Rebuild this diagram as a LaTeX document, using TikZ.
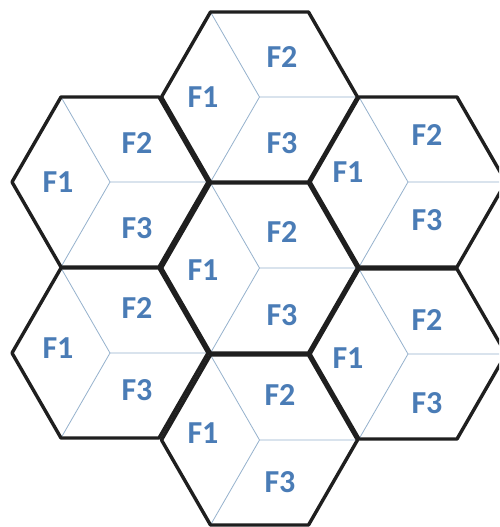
\documentclass[tikz,border=0pt]{standalone}
\usepackage{fontspec}
\setmainfont{Carlito}
\definecolor{labelblue}{RGB}{74,124,182}
\definecolor{sectorline}{RGB}{150,178,205}
\begin{document}
\begin{tikzpicture}[x=1pt,y=-1pt,
  hexline/.style={line width=3.4pt, draw=black!88, line join=round},
  sector/.style={line width=0.8pt, draw=sectorline},
  lbl/.style={text=labelblue, font=\fontsize{32}{32}\selectfont\bfseries, inner sep=0pt}]
\clip (0,0) rectangle (499,527);
\fill[white] (0,0) rectangle (499,527);
\foreach \n/\cx/\cy in {T/259.5/97, UL/110/182, UR/408/182, C/259.5/268, LL/110/353, LR/408/354, B/259.5/440} {
  \coordinate (\n) at (\cx,\cy);
  \draw[sector] (\n) -- ++(98,0) (\n) -- ++(-49,-85) (\n) -- ++(-49,85);
}
\foreach \n in {T,UL,UR,C,LL,LR,B} {
  \draw[hexline] (\n) ++(98,0) -- ++(-49,-85) -- ++(-98,0) -- ++(-49,85) -- ++(49,85) -- ++(98,0) -- cycle;
}
\foreach \n/\ax/\ay/\bx/\by/\px/\py in {
  T/203/97/282/57/282/143,
  UL/58/182/137/143/137/228,
  UR/348/172/427/135/427/220,
  C/203/270/282/232/282/315,
  LL/58/348/137/308/137/390,
  LR/348/358/427/320/427/403,
  B/203/433/280/395/280/482} {
  \node[lbl] (\n-1) at (\ax,\ay) {F1};
  \node[lbl] (\n-2) at (\bx,\by) {F2};
  \node[lbl] (\n-3) at (\px,\py) {F3};
}
\end{tikzpicture}
\end{document}
